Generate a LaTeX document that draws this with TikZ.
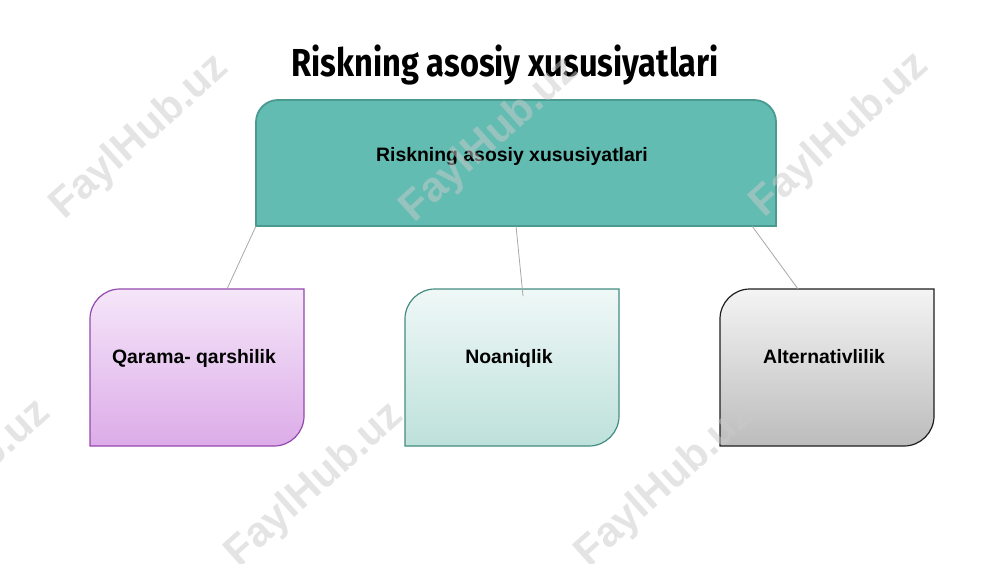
\documentclass[tikz,border=0pt]{standalone}
\usepackage{fontspec}
\setmainfont{Liberation Sans}
\newfontfamily\titlefont[FakeStretch=0.835]{Fira Sans}
\usetikzlibrary{calc,positioning}

\definecolor{headfill}{HTML}{62BCB2}
\definecolor{headline}{HTML}{4A9A90}
\definecolor{purpletop}{HTML}{F5E6F9}
\definecolor{purplebot}{HTML}{DCACE8}
\definecolor{purpleline}{HTML}{9448AE}
\definecolor{minttop}{HTML}{EFF8F7}
\definecolor{mintbot}{HTML}{BEE1DB}
\definecolor{mintline}{HTML}{448C81}
\definecolor{graytop}{HTML}{F4F4F4}
\definecolor{graybot}{HTML}{BCBCBC}
\definecolor{grayline}{HTML}{1E1E1E}
\definecolor{linkgray}{HTML}{A8A8A8}
\definecolor{wmgray}{HTML}{CACACA}

% leaf box: rounded top-left and bottom-right corners
\newcommand{\leafbox}[2]{%
  \path[#2] (#1.north east) -- ($(#1.south east)+(0,30)$)
    arc[start angle=0,end angle=-90,radius=30] -- (#1.south west)
    -- ($(#1.north west)+(0,-30)$)
    arc[start angle=180,end angle=90,radius=30] -- cycle;}

\begin{document}
\begin{tikzpicture}[x=1pt,y=1pt,
    headnode/.style={inner sep=0pt,outer sep=0pt,minimum width=520pt,minimum height=126pt},
    boxnode/.style={inner sep=0pt,outer sep=0pt,minimum width=214pt,minimum height=157pt},
    boxtext/.style={font=\fontsize{19.4}{23}\selectfont\bfseries,anchor=base},
    link/.style={draw=linkgray,line width=0.8pt},
    wmark/.style={font=\fontsize{42}{50}\selectfont\bfseries,text=wmgray,opacity=0.5,rotate=42}]
  \useasboundingbox (0,0) rectangle (1000,563);
  \clip (0,0) rectangle (1000,563);

  \node[font=\titlefont\fontsize{39}{46}\selectfont\bfseries,anchor=base] (title) at (505,486)
    {Riskning asosiy xususiyatlari};

  % head box
  \node[headnode] (head) at (516,400) {};
  \path[fill=headfill,draw=headline,line width=1.8pt] (head.south west)
    -- ($(head.north west)+(0,-22)$) arc[start angle=180,end angle=90,radius=22]
    -- ($(head.north east)+(-22,0)$) arc[start angle=90,end angle=0,radius=22]
    -- (head.south east) -- cycle;
  \node[boxtext] (headtext) at ($(head.center)+(-4,1)$) {Riskning asosiy xususiyatlari};

  % leaf boxes
  \node[boxnode] (qarama) at (197,195.5) {};
  \node[boxnode,right=101pt of qarama] (noaniqlik) {};
  \node[boxnode,right=101pt of noaniqlik] (altern) {};
  \leafbox{qarama}{top color=purpletop,bottom color=purplebot,draw=purpleline,line width=1.2pt}
  \leafbox{noaniqlik}{top color=minttop,bottom color=mintbot,draw=mintline,line width=1.2pt}
  \leafbox{altern}{top color=graytop,bottom color=graybot,draw=grayline,line width=1.2pt}
  \node[boxtext] (qaramatext) at ($(qarama.center)+(-3,4.5)$) {Qarama- qarshilik};
  \node[boxtext] (noaniqliktext) at ($(noaniqlik.center)+(-3,4.5)$) {Noaniqlik};
  \node[boxtext] (alterntext) at ($(altern.center)+(-3,4.5)$) {Alternativlilik};

  \draw[link] (head.south west) -- ($(qarama.north)+(30,0)$);
  \draw[link] (head.south) -- ($(noaniqlik.north)+(11,-7)$);
  \draw[link] ($(head.south east)+(-24,0)$) -- ($(altern.north)+(-29,0)$);

  % watermarks
  \foreach \wx/\wy [count=\i] in {140/426,490/423,840/428,-38/81,315/78,665/78}
    \node[wmark] (wm\i) at (\wx,\wy) {FaylHub.uz};
\end{tikzpicture}
\end{document}
